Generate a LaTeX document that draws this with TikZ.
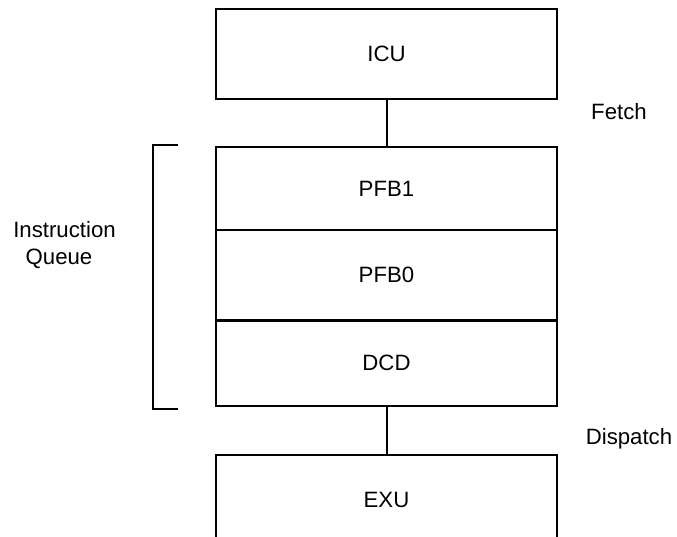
\documentclass[tikz,border=0pt]{standalone}
\usepackage{fontspec}
\setmainfont{Liberation Sans}
\begin{document}
\begin{tikzpicture}[x=1pt,y=-1pt,
  blk/.style={draw=black,line width=2pt,minimum width=341pt,inner sep=0pt,font=\fontsize{22.2}{26.5}\selectfont},
  lbl/.style={inner sep=0pt,font=\fontsize{22.2}{26.5}\selectfont,align=center},
  wire/.style={draw=black,line width=2pt}]
\useasboundingbox (0,0) rectangle (677,537);
\clip (0,0) rectangle (677,537);
\node[blk,minimum height=90pt] (icu) at (386.5,54) {ICU};
\node[blk,minimum height=83pt] (pfb1) at (386.5,188.5) {PFB1};
\node[blk,minimum height=90pt] (pfb0) at (386.5,275) {PFB0};
\node[blk,minimum height=85pt] (dcd) at (386.5,363) {DCD};
\node[blk,minimum height=90pt] (exu) at (386.5,500) {EXU};
\draw[wire] (icu.south) -- (pfb1.north);
\draw[wire] (dcd.south) -- (exu.north);
\coordinate (bt) at (178,145);
\coordinate (bb) at (178,409);
\draw[wire] (bt) -- (153,145) -- (153,409) -- (bb);
\node[lbl] (fetch) at (619,112) {Fetch};
\node[lbl] (dispatch) at (629,439) {Dispatch};
\node[lbl,align=center] (iq) at (64.5,245) {Instruction\\Queue\kern11pt};
\end{tikzpicture}
\end{document}
